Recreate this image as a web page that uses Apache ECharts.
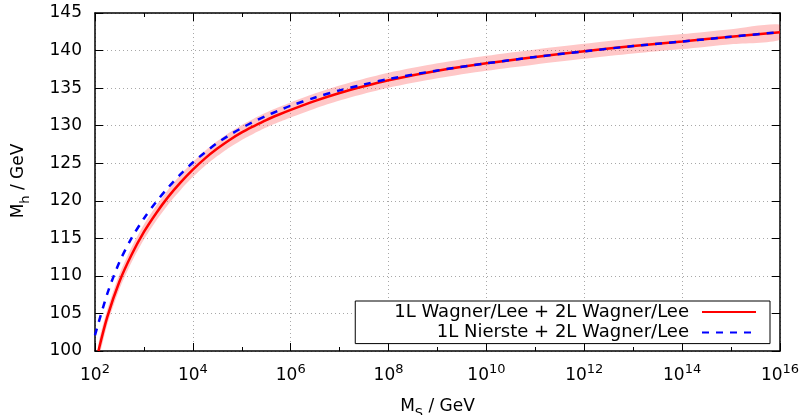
<!DOCTYPE html>
<html>
<head>
<meta charset="utf-8">
<script src="https://cdn.jsdelivr.net/npm/echarts@6/dist/echarts.min.js"></script>
<style>
html,body{margin:0;padding:0;background:#fff;}
#chart{width:803px;height:415px;}
</style>
</head>
<body>
<div id="chart"></div>
<script>
// log10(M_S / GeV) sample points and M_h values (GeV)
const logMSRed = [2.07, 2.25, 2.5, 2.75, 3.0, 3.25, 3.5, 3.75, 4.0, 4.25, 4.5, 4.75, 5.0, 5.25, 5.5, 5.75, 6.0, 6.5, 7.0, 7.5, 8.0, 9, 10, 11, 12, 13, 14, 15, 16];
const mhRed    = [100.0, 104.5, 109.25, 112.85, 115.85, 118.35, 120.55, 122.45, 124.15, 125.65, 126.95, 128.1, 129.1, 129.95, 130.75, 131.45, 132.1, 133.3, 134.35, 135.25, 136.05, 137.3, 138.3, 139.15, 139.9, 140.6, 141.2, 141.85, 142.45];
const bandLow  = [99.0, 103.5, 108.25, 111.85, 114.85, 117.35, 119.55, 121.45, 123.15, 124.65, 125.95, 127.1, 128.1, 128.95, 129.75, 130.45, 131.1, 132.3, 133.35, 134.25, 135.05, 136.3, 137.3, 138.15, 138.9, 139.6, 140.2, 140.85, 141.45];
const bandHigh = [101.0, 105.5, 110.25, 113.85, 116.85, 119.35, 121.55, 123.45, 125.15, 126.65, 127.95, 129.1, 130.1, 130.95, 131.75, 132.45, 133.1, 134.3, 135.35, 136.25, 137.05, 138.3, 139.3, 140.15, 140.9, 141.6, 142.2, 142.85, 143.45];
const logMSBlue = [2.0, 2.25, 2.5, 2.75, 3.0, 3.25, 3.5, 3.75, 4.0, 4.25, 4.5, 4.75, 5.0, 5.25, 5.5, 5.75, 6.0, 6.5, 7.0, 7.5, 8.0, 9, 10, 11, 12, 13, 14, 15, 16];
const mhBlue    = [102.1, 107.6, 111.85, 115.05, 117.65, 119.85, 121.8, 123.55, 125.1, 126.45, 127.7, 128.75, 129.7, 130.55, 131.3, 132.0, 132.65, 133.75, 134.7, 135.5, 136.2, 137.35, 138.3, 139.15, 139.9, 140.6, 141.2, 141.85, 142.45];
const seriesNames = ['1L Wagner/Lee + 2L Wagner/Lee', '1L Nierste + 2L Wagner/Lee'];
const xTickExponents = [2, 4, 6, 8, 10, 12, 14, 16];
const yTicks = [100, 105, 110, 115, 120, 125, 130, 135, 140, 145];

const FONT = 'DejaVu Sans';
const zip = (xs, ys) => xs.map((x, i) => [x, ys[i]]);

const chart = echarts.init(document.getElementById('chart'), null, {renderer: 'canvas'});
const gridLine = {show: true, lineStyle: {color: '#a8a8a8', width: 1, type: [1, 3]}};
const axisLineStyle = {show: true, onZero: false, lineStyle: {color: '#000', width: 1.5}};
const tickStyle = {show: true, inside: true, length: 8, lineStyle: {color: '#000', width: 1}};
const minorTickStyle = {show: true, splitNumber: 2, length: 4, lineStyle: {color: '#000', width: 1}};
const subRich = {
  m: {fontFamily: FONT, fontSize: 17, color: '#000', lineHeight: 17, verticalAlign: 'top'},
  s: {fontFamily: FONT, fontSize: 13, color: '#000', lineHeight: 13, verticalAlign: 'top', padding: [9, 0, 0, 0]}
};

chart.setOption({
  animation: false,
  backgroundColor: '#fff',
  textStyle: {fontFamily: FONT},
  grid: {left: 95, right: 23, top: 13, bottom: 64, containLabel: false, outerBoundsMode: 'none'},
  legend: {
    data: seriesNames,
    orient: 'vertical',
    align: 'right',
    right: 33,
    top: 301,
    itemWidth: 54,
    itemHeight: 14,
    itemGap: 2.6,
    padding: [2, 13, 2, 39],
    backgroundColor: '#fff',
    borderColor: '#000',
    borderWidth: 1,
    borderRadius: 0,
    selectedMode: false,
    itemStyle: {opacity: 0},
    formatter: n => '{t|' + n + '}',
    textStyle: {
      fontFamily: FONT, fontSize: 18, color: '#000',
      rich: {t: {fontFamily: FONT, fontSize: 18, color: '#000', padding: [0, 8, 0, 0]}}
    }
  },
  xAxis: [{
    type: 'value', min: 2, max: 16, interval: 2,
    name: '{m|M}{s|S}{m| / GeV}',
    nameLocation: 'middle', nameGap: 47, nameMoveOverlap: false,
    nameTextStyle: {rich: subRich},
    axisLine: axisLineStyle,
    axisTick: tickStyle,
    minorTick: minorTickStyle,
    splitLine: gridLine,
    axisLabel: {
      margin: 12,
      formatter: v => xTickExponents.includes(v) ? '{b|10}{p|' + v + '}' : '',
      rich: {
        b: {fontFamily: FONT, fontSize: 17, color: '#000', lineHeight: 17, verticalAlign: 'top', padding: [4, 0, 0, 0]},
        p: {fontFamily: FONT, fontSize: 13, color: '#000', lineHeight: 13, verticalAlign: 'top'}
      }
    }
  }, {
    type: 'value', min: 2, max: 16, interval: 2, position: 'top',
    axisLine: axisLineStyle,
    axisTick: tickStyle,
    minorTick: minorTickStyle,
    splitLine: {show: false},
    axisLabel: {show: false}
  }],
  yAxis: [{
    type: 'value', min: 100, max: 145, interval: 5,
    name: '{m|M}{s|h}{m| / GeV}',
    nameLocation: 'middle', nameGap: 68, nameRotate: 90, nameMoveOverlap: false,
    nameTextStyle: {rich: subRich, padding: [0, 0, 0, 2]},
    axisLine: axisLineStyle,
    axisTick: tickStyle,
    splitLine: gridLine,
    axisLabel: {margin: 13, fontFamily: FONT, fontSize: 17, color: '#000',
      formatter: v => yTicks.includes(v) ? String(v) : ''}
  }, {
    type: 'value', min: 100, max: 145, interval: 5, position: 'right',
    axisLine: axisLineStyle,
    axisTick: tickStyle,
    splitLine: {show: false},
    axisLabel: {show: false}
  }],
  series: [
    {
      name: 'band', type: 'custom', clip: true, silent: true, z: 1,
      data: logMSRed.map((x, i) => [x, bandLow[i], bandHigh[i]]),
      encode: {x: 0, y: [1, 2]},
      renderItem: function (params, api) {
        if (params.dataIndex !== 0) return null;
        const pts = [];
        for (let i = 0; i < logMSRed.length; i++) pts.push(api.coord([logMSRed[i], bandHigh[i]]));
        for (let i = logMSRed.length - 1; i >= 0; i--) pts.push(api.coord([logMSRed[i], bandLow[i]]));
        const cs = params.coordSys;
        return {
          type: 'group',
          children: [{
            type: 'polygon',
            shape: {points: pts, smooth: 0.25},
            style: {fill: 'rgba(255,0,0,0.22)', stroke: null}
          }],
          clipPath: {type: 'rect', shape: {x: cs.x, y: cs.y, width: cs.width, height: cs.height}}
        };
      }
    },
    {
      name: seriesNames[0], type: 'line', symbol: 'none', showSymbol: false, smooth: 0.3,
      data: zip(logMSRed, mhRed),
      lineStyle: {color: '#ff0000', width: 2.5}, itemStyle: {color: '#ff0000'}, z: 3
    },
    {
      name: seriesNames[1], type: 'line', symbol: 'none', showSymbol: false, smooth: 0.3,
      data: zip(logMSBlue, mhBlue),
      lineStyle: {color: '#0000ff', width: 2.5, type: [7, 7]}, itemStyle: {color: '#0000ff'}, z: 4
    }
  ]
});
</script>
</body>
</html>
